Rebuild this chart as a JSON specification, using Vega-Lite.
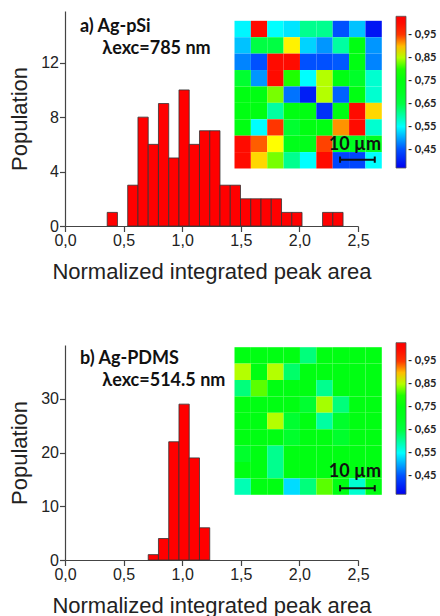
{
  "$schema": "https://vega.github.io/schema/vega-lite/v6.json",
  "background": "white",
  "padding": {"left": 8, "top": 11, "right": 0, "bottom": 0},
  "spacing": 59,
  "config": {
    "view": {"stroke": null},
    "axis": {"labelFont": "Liberation Sans", "titleFont": "Liberation Sans", "labelFontSize": 16, "titleFontSize": 22, "titleFontWeight": "normal", "labelColor": "#222", "titleColor": "#222", "domainColor": "#444", "tickColor": "#444", "domainWidth": 1.2, "tickWidth": 1.2, "grid": false, "labelFlush": false, "labelOverlap": false}
  },
  "datasets": {
    "histA": [
      {"start": 0.36, "end": 0.4475, "count": 1},
      {"start": 0.535, "end": 0.6225, "count": 3},
      {"start": 0.6225, "end": 0.71, "count": 8},
      {"start": 0.71, "end": 0.7975, "count": 6},
      {"start": 0.7975, "end": 0.885, "count": 9},
      {"start": 0.885, "end": 0.9725, "count": 5},
      {"start": 0.9725, "end": 1.06, "count": 10},
      {"start": 1.06, "end": 1.1475, "count": 6},
      {"start": 1.1475, "end": 1.235, "count": 7},
      {"start": 1.235, "end": 1.3225, "count": 7},
      {"start": 1.3225, "end": 1.41, "count": 3},
      {"start": 1.41, "end": 1.4975, "count": 3},
      {"start": 1.4975, "end": 1.585, "count": 2},
      {"start": 1.585, "end": 1.6725, "count": 2},
      {"start": 1.6725, "end": 1.76, "count": 2},
      {"start": 1.76, "end": 1.8475, "count": 2},
      {"start": 1.8475, "end": 1.935, "count": 1},
      {"start": 1.935, "end": 2.0225, "count": 1},
      {"start": 2.1975, "end": 2.285, "count": 1},
      {"start": 2.285, "end": 2.3725, "count": 1}
    ],
    "histB": [
      {"start": 0.71, "end": 0.7975, "count": 1},
      {"start": 0.7975, "end": 0.885, "count": 4},
      {"start": 0.885, "end": 0.9725, "count": 22},
      {"start": 0.9725, "end": 1.06, "count": 29},
      {"start": 1.06, "end": 1.1475, "count": 19},
      {"start": 1.1475, "end": 1.235, "count": 6}
    ],
    "mapA": [
      {"r":0,"c":0,"v":0.545},{"r":0,"c":1,"v":1.0},{"r":0,"c":2,"v":0.55},{"r":0,"c":3,"v":0.535},{"r":0,"c":4,"v":0.61},{"r":0,"c":5,"v":0.61},{"r":0,"c":6,"v":0.45},{"r":0,"c":7,"v":0.515},{"r":0,"c":8,"v":0.39},
      {"r":1,"c":0,"v":0.515},{"r":1,"c":1,"v":0.65},{"r":1,"c":2,"v":0.65},{"r":1,"c":3,"v":0.88},{"r":1,"c":4,"v":0.525},{"r":1,"c":5,"v":0.49},{"r":1,"c":6,"v":0.6},{"r":1,"c":7,"v":0.74},{"r":1,"c":8,"v":0.49},
      {"r":2,"c":0,"v":0.48},{"r":2,"c":1,"v":0.45},{"r":2,"c":2,"v":1.0},{"r":2,"c":3,"v":1.0},{"r":2,"c":4,"v":0.45},{"r":2,"c":5,"v":0.45},{"r":2,"c":6,"v":0.455},{"r":2,"c":7,"v":0.74},{"r":2,"c":8,"v":0.48},
      {"r":3,"c":0,"v":0.66},{"r":3,"c":1,"v":0.49},{"r":3,"c":2,"v":1.0},{"r":3,"c":3,"v":0.8},{"r":3,"c":4,"v":0.55},{"r":3,"c":5,"v":0.85},{"r":3,"c":6,"v":0.74},{"r":3,"c":7,"v":0.68},{"r":3,"c":8,"v":0.575},
      {"r":4,"c":0,"v":0.74},{"r":4,"c":1,"v":0.74},{"r":4,"c":2,"v":0.83},{"r":4,"c":3,"v":0.47},{"r":4,"c":4,"v":0.4},{"r":4,"c":5,"v":0.85},{"r":4,"c":6,"v":0.46},{"r":4,"c":7,"v":0.74},{"r":4,"c":8,"v":0.575},
      {"r":5,"c":0,"v":0.74},{"r":5,"c":1,"v":0.74},{"r":5,"c":2,"v":0.6},{"r":5,"c":3,"v":0.74},{"r":5,"c":4,"v":0.74},{"r":5,"c":5,"v":0.42},{"r":5,"c":6,"v":0.74},{"r":5,"c":7,"v":1.0},{"r":5,"c":8,"v":0.89},
      {"r":6,"c":0,"v":0.74},{"r":6,"c":1,"v":0.55},{"r":6,"c":2,"v":0.95},{"r":6,"c":3,"v":0.66},{"r":6,"c":4,"v":0.74},{"r":6,"c":5,"v":0.74},{"r":6,"c":6,"v":0.915},{"r":6,"c":7,"v":1.0},{"r":6,"c":8,"v":0.575},
      {"r":7,"c":0,"v":1.0},{"r":7,"c":1,"v":0.935},{"r":7,"c":2,"v":0.875},{"r":7,"c":3,"v":0.72},{"r":7,"c":4,"v":0.72},{"r":7,"c":5,"v":0.945},{"r":7,"c":6,"v":0.7},{"r":7,"c":7,"v":0.7},{"r":7,"c":8,"v":0.7},
      {"r":8,"c":0,"v":1.0},{"r":8,"c":1,"v":0.89},{"r":8,"c":2,"v":0.83},{"r":8,"c":3,"v":0.61},{"r":8,"c":4,"v":0.55},{"r":8,"c":5,"v":1.0},{"r":8,"c":6,"v":0.44},{"r":8,"c":7,"v":0.44},{"r":8,"c":8,"v":0.55}
    ],
    "mapB": [
      {"r":0,"c":0,"v":0.74},{"r":0,"c":1,"v":0.74},{"r":0,"c":2,"v":0.74},{"r":0,"c":3,"v":0.74},{"r":0,"c":4,"v":0.62},{"r":0,"c":5,"v":0.74},{"r":0,"c":6,"v":0.74},{"r":0,"c":7,"v":0.74},{"r":0,"c":8,"v":0.74},
      {"r":1,"c":0,"v":0.85},{"r":1,"c":1,"v":0.74},{"r":1,"c":2,"v":0.85},{"r":1,"c":3,"v":0.63},{"r":1,"c":4,"v":0.74},{"r":1,"c":5,"v":0.74},{"r":1,"c":6,"v":0.74},{"r":1,"c":7,"v":0.74},{"r":1,"c":8,"v":0.74},
      {"r":2,"c":0,"v":0.62},{"r":2,"c":1,"v":0.82},{"r":2,"c":2,"v":0.74},{"r":2,"c":3,"v":0.74},{"r":2,"c":4,"v":0.74},{"r":2,"c":5,"v":0.61},{"r":2,"c":6,"v":0.74},{"r":2,"c":7,"v":0.74},{"r":2,"c":8,"v":0.74},
      {"r":3,"c":0,"v":0.74},{"r":3,"c":1,"v":0.74},{"r":3,"c":2,"v":0.74},{"r":3,"c":3,"v":0.74},{"r":3,"c":4,"v":0.66},{"r":3,"c":5,"v":0.845},{"r":3,"c":6,"v":0.62},{"r":3,"c":7,"v":0.74},{"r":3,"c":8,"v":0.74},
      {"r":4,"c":0,"v":0.74},{"r":4,"c":1,"v":0.74},{"r":4,"c":2,"v":0.85},{"r":4,"c":3,"v":0.66},{"r":4,"c":4,"v":0.74},{"r":4,"c":5,"v":0.6},{"r":4,"c":6,"v":0.67},{"r":4,"c":7,"v":0.74},{"r":4,"c":8,"v":0.74},
      {"r":5,"c":0,"v":0.74},{"r":5,"c":1,"v":0.74},{"r":5,"c":2,"v":0.74},{"r":5,"c":3,"v":0.67},{"r":5,"c":4,"v":0.74},{"r":5,"c":5,"v":0.74},{"r":5,"c":6,"v":0.67},{"r":5,"c":7,"v":0.74},{"r":5,"c":8,"v":0.74},
      {"r":6,"c":0,"v":0.67},{"r":6,"c":1,"v":0.74},{"r":6,"c":2,"v":0.61},{"r":6,"c":3,"v":0.74},{"r":6,"c":4,"v":0.74},{"r":6,"c":5,"v":0.74},{"r":6,"c":6,"v":0.74},{"r":6,"c":7,"v":0.74},{"r":6,"c":8,"v":0.74},
      {"r":7,"c":0,"v":0.74},{"r":7,"c":1,"v":0.74},{"r":7,"c":2,"v":0.61},{"r":7,"c":3,"v":0.74},{"r":7,"c":4,"v":0.74},{"r":7,"c":5,"v":0.74},{"r":7,"c":6,"v":0.74},{"r":7,"c":7,"v":0.74},{"r":7,"c":8,"v":0.74},
      {"r":8,"c":0,"v":0.59},{"r":8,"c":1,"v":0.74},{"r":8,"c":2,"v":0.74},{"r":8,"c":3,"v":0.53},{"r":8,"c":4,"v":0.62},{"r":8,"c":5,"v":0.82},{"r":8,"c":6,"v":0.74},{"r":8,"c":7,"v":0.575},{"r":8,"c":8,"v":0.74}
    ]
  },
  "vconcat": [
    {
      "width": 293,
      "height": 215,
      "layer": [
        {
          "layer": [
            {
              "data": {"name": "histA"},
              "mark": {"type": "rect", "fill": "#ff0000", "stroke": "#333333", "strokeWidth": 0.8},
              "encoding": {
                "x": {"field": "start", "type": "quantitative", "title": "Normalized integrated peak area",
                  "scale": {"domain": [0, 2.5], "nice": false, "zero": false},
                  "axis": {"values": [0, 0.25, 0.5, 0.75, 1, 1.25, 1.5, 1.75, 2, 2.25, 2.5],
                    "labelExpr": "(datum.value * 2) % 1 == 0 ? replace(format(datum.value, '.1f'), '.', ',') : ''",
                    "tickSize": {"condition": {"test": "(datum.value * 2) % 1 != 0", "value": 3.5}, "value": 5.5},
                    "labelPadding": 1, "titlePadding": 13}},
                "x2": {"field": "end"},
                "y": {"field": "count", "type": "quantitative", "title": "Population",
                  "scale": {"domain": [0, 15.8], "nice": false},
                  "axis": {"values": [0, 2, 4, 6, 8, 10, 12, 14],
                    "labelExpr": "datum.value % 4 == 0 ? format(datum.value, 'd') : ''",
                    "tickSize": {"condition": {"test": "datum.value % 4 != 0", "value": 3.5}, "value": 5.5},
                    "labelPadding": 1, "titlePadding": 9}},
                "y2": {"datum": 0}
              }
            },
            {
              "data": {"values": [{}]},
              "mark": {"type": "text", "font": "Lato", "fontWeight": "bold", "fontSize": 18, "align": "left", "baseline": "alphabetic", "color": "#111"},
              "encoding": {
                "x": {"datum": 0.128, "type": "quantitative"},
                "y": {"datum": 14.27, "type": "quantitative"},
                "text": {"value": "a) Ag-pSi"}
              }
            },
            {
              "data": {"values": [{}]},
              "mark": {"type": "text", "font": "Lato", "fontWeight": "bold", "fontSize": 18, "align": "left", "baseline": "alphabetic", "color": "#111"},
              "encoding": {
                "x": {"datum": 0.318, "type": "quantitative"},
                "y": {"datum": 12.67, "type": "quantitative"},
                "text": {"value": "λexc=785 nm"}
              }
            }
          ]
        },
        {
          "layer": [
            {
              "data": {"name": "mapA"},
              "mark": {"type": "rect"},
              "encoding": {
                "x": {"field": "c", "type": "quantitative", "bin": {"step": 1, "extent": [0, 9]}, "scale": {"domain": [0, 9], "range": [169, 316.3], "nice": false, "zero": false}, "axis": null},
                "y": {"field": "r", "type": "quantitative", "bin": {"step": 1, "extent": [0, 9]}, "scale": {"domain": [0, 9], "range": [9.3, 157], "nice": false, "zero": false}, "axis": null},
                "color": {"field": "v", "type": "quantitative",
                  "scale": {"type": "linear", "domain": [0.37, 0.45, 0.55, 0.66, 0.79, 0.875, 0.96, 1.03], "range": ["#0000f0", "#0050ff", "#00ffff", "#00ff30", "#00ff00", "#ffff00", "#ff1a00", "#ff0000"], "interpolate": "rgb", "clamp": true, "nice": false, "zero": false},
                  "legend": {"orient": "none", "legendX": 331, "legendY": 5.3, "direction": "vertical", "gradientLength": 151.7, "gradientThickness": 10, "title": null, "padding": 0,
                    "values": [0.45, 0.55, 0.65, 0.75, 0.85, 0.95],
                    "labelExpr": "'-  ' + replace(format(datum.value, '.2f'), '.', ',')",
                    "labelFont": "Lato", "labelFontWeight": "bold", "labelFontSize": 11, "labelColor": "#222", "labelOffset": 2,
                    "gradientStrokeColor": "#555", "gradientStrokeWidth": 0.8}}
              }
            },
            {
              "data": {"values": [{}]},
              "mark": {"type": "rule", "strokeWidth": 2, "color": "#111"},
              "encoding": {"x": {"datum": 6.48, "type": "quantitative"}, "x2": {"datum": 8.6}, "y": {"datum": 8.49, "type": "quantitative"}}
            },
            {
              "data": {"values": [{}]},
              "mark": {"type": "rule", "strokeWidth": 2, "color": "#111"},
              "encoding": {"x": {"datum": 6.48, "type": "quantitative"}, "y": {"datum": 8.3, "type": "quantitative"}, "y2": {"datum": 8.68}}
            },
            {
              "data": {"values": [{}]},
              "mark": {"type": "rule", "strokeWidth": 2, "color": "#111"},
              "encoding": {"x": {"datum": 8.6, "type": "quantitative"}, "y": {"datum": 8.3, "type": "quantitative"}, "y2": {"datum": 8.68}}
            },
            {
              "data": {"values": [{}]},
              "mark": {"type": "text", "font": "Lato", "fontWeight": "bold", "fontSize": 18, "align": "center", "baseline": "alphabetic", "color": "#111"},
              "encoding": {"x": {"datum": 7.39, "type": "quantitative"}, "y": {"datum": 7.88, "type": "quantitative"}, "text": {"value": "10 µm"}}
            }
          ]
        }
      ],
      "resolve": {"scale": {"x": "independent", "y": "independent"}}
    },
    {
      "width": 293,
      "height": 215,
      "layer": [
        {
          "layer": [
            {
              "data": {"name": "histB"},
              "mark": {"type": "rect", "fill": "#ff0000", "stroke": "#333333", "strokeWidth": 0.8},
              "encoding": {
                "x": {"field": "start", "type": "quantitative", "title": "Normalized integrated peak area",
                  "scale": {"domain": [0, 2.5], "nice": false, "zero": false},
                  "axis": {"values": [0, 0.25, 0.5, 0.75, 1, 1.25, 1.5, 1.75, 2, 2.25, 2.5],
                    "labelExpr": "(datum.value * 2) % 1 == 0 ? replace(format(datum.value, '.1f'), '.', ',') : ''",
                    "tickSize": {"condition": {"test": "(datum.value * 2) % 1 != 0", "value": 3.5}, "value": 5.5},
                    "labelPadding": 1, "titlePadding": 13}},
                "x2": {"field": "end"},
                "y": {"field": "count", "type": "quantitative", "title": "Population",
                  "scale": {"domain": [0, 40], "nice": false},
                  "axis": {"values": [0, 5, 10, 15, 20, 25, 30, 35],
                    "labelExpr": "datum.value % 10 == 0 ? format(datum.value, 'd') : ''",
                    "tickSize": {"condition": {"test": "datum.value % 10 != 0", "value": 3.5}, "value": 5.5},
                    "labelPadding": 1, "titlePadding": 9}},
                "y2": {"datum": 0}
              }
            },
            {
              "data": {"values": [{}]},
              "mark": {"type": "text", "font": "Lato", "fontWeight": "bold", "fontSize": 18, "align": "left", "baseline": "alphabetic", "color": "#111"},
              "encoding": {
                "x": {"datum": 0.128, "type": "quantitative"},
                "y": {"datum": 36.5, "type": "quantitative"},
                "text": {"value": "b) Ag-PDMS"}
              }
            },
            {
              "data": {"values": [{}]},
              "mark": {"type": "text", "font": "Lato", "fontWeight": "bold", "fontSize": 18, "align": "left", "baseline": "alphabetic", "color": "#111"},
              "encoding": {
                "x": {"datum": 0.318, "type": "quantitative"},
                "y": {"datum": 32.4, "type": "quantitative"},
                "text": {"value": "λexc=514.5 nm"}
              }
            }
          ]
        },
        {
          "layer": [
            {
              "data": {"name": "mapB"},
              "mark": {"type": "rect"},
              "encoding": {
                "x": {"field": "c", "type": "quantitative", "bin": {"step": 1, "extent": [0, 9]}, "scale": {"domain": [0, 9], "range": [169, 316.3], "nice": false, "zero": false}, "axis": null},
                "y": {"field": "r", "type": "quantitative", "bin": {"step": 1, "extent": [0, 9]}, "scale": {"domain": [0, 9], "range": [1.7, 149.3], "nice": false, "zero": false}, "axis": null},
                "color": {"field": "v", "type": "quantitative",
                  "scale": {"type": "linear", "domain": [0.37, 0.45, 0.55, 0.66, 0.79, 0.875, 0.96, 1.03], "range": ["#0000f0", "#0050ff", "#00ffff", "#00ff30", "#00ff00", "#ffff00", "#ff1a00", "#ff0000"], "interpolate": "rgb", "clamp": true, "nice": false, "zero": false},
                  "legend": {"orient": "none", "legendX": 331, "legendY": -2.3, "direction": "vertical", "gradientLength": 151.6, "gradientThickness": 10, "title": null, "padding": 0,
                    "values": [0.45, 0.55, 0.65, 0.75, 0.85, 0.95],
                    "labelExpr": "'-  ' + replace(format(datum.value, '.2f'), '.', ',')",
                    "labelFont": "Lato", "labelFontWeight": "bold", "labelFontSize": 11, "labelColor": "#222", "labelOffset": 2,
                    "gradientStrokeColor": "#555", "gradientStrokeWidth": 0.8}}
              }
            },
            {
              "data": {"values": [{}]},
              "mark": {"type": "rule", "strokeWidth": 2, "color": "#111"},
              "encoding": {"x": {"datum": 6.48, "type": "quantitative"}, "x2": {"datum": 8.6}, "y": {"datum": 8.63, "type": "quantitative"}}
            },
            {
              "data": {"values": [{}]},
              "mark": {"type": "rule", "strokeWidth": 2, "color": "#111"},
              "encoding": {"x": {"datum": 6.48, "type": "quantitative"}, "y": {"datum": 8.44, "type": "quantitative"}, "y2": {"datum": 8.82}}
            },
            {
              "data": {"values": [{}]},
              "mark": {"type": "rule", "strokeWidth": 2, "color": "#111"},
              "encoding": {"x": {"datum": 8.6, "type": "quantitative"}, "y": {"datum": 8.44, "type": "quantitative"}, "y2": {"datum": 8.82}}
            },
            {
              "data": {"values": [{}]},
              "mark": {"type": "text", "font": "Lato", "fontWeight": "bold", "fontSize": 18, "align": "center", "baseline": "alphabetic", "color": "#111"},
              "encoding": {"x": {"datum": 7.39, "type": "quantitative"}, "y": {"datum": 7.93, "type": "quantitative"}, "text": {"value": "10 µm"}}
            }
          ]
        }
      ],
      "resolve": {"scale": {"x": "independent", "y": "independent"}}
    }
  ],
  "resolve": {"scale": {"color": "independent", "x": "independent", "y": "independent"}, "legend": {"color": "independent"}}
}
